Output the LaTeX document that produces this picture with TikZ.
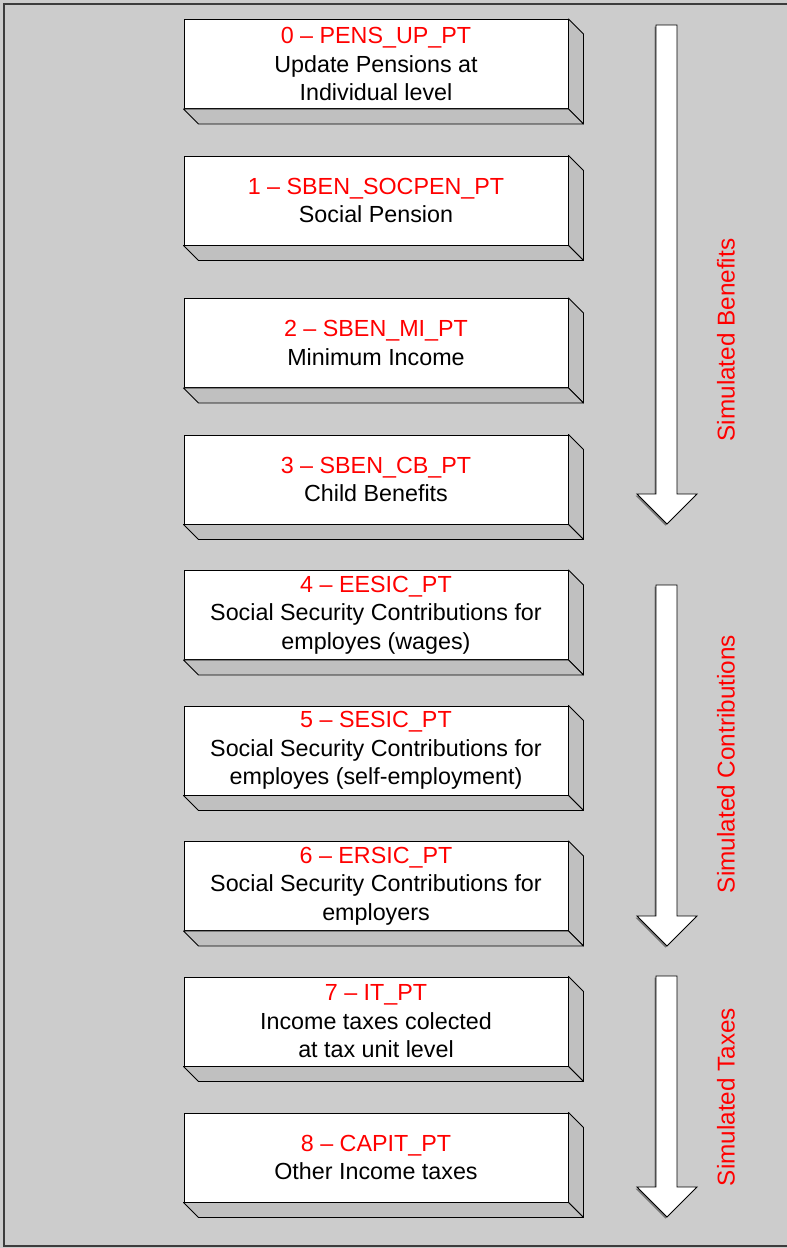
\documentclass[tikz,border=0pt]{standalone}
\usepackage{fontspec}
\setmainfont{Liberation Sans}
\definecolor{bg}{RGB}{204,204,204}
\definecolor{bevelc}{RGB}{192,192,192}
\definecolor{framec}{RGB}{60,60,60}
\definecolor{shadowc}{RGB}{120,120,120}
\newcommand\mybevel[1]{%
  \path[bevel] (#1.north east) -- ++(15,15) -- ([shift={(15,15)}]#1.south east) -- (#1.south east) -- cycle;
  \path[bevel] (#1.south west) -- (#1.south east) -- ([shift={(15,15)}]#1.south east) -- ([shift={(15,15)}]#1.south west) -- cycle;
}
\newcommand\myarrow[3]{% top, head base, tip
  \fill[shadowc] (654.5,#1+1.5) -- (675.5,#1+1.5) -- (675.5,#2+1.5) -- (695.5,#2+1.5) -- (665.5,#3+1.5) -- (635.5,#2+1.5) -- (654.5,#2+1.5) -- cycle;
  \path[bigarrow] (656,#1) -- (677,#1) -- (677,#2) -- (697,#2) -- (667,#3) -- (637,#2) -- (656,#2) -- cycle;
}
\begin{document}
\begin{tikzpicture}[x=1pt,y=-1pt,
  front/.style={draw=black,fill=white,line width=0.9pt,minimum width=384pt,minimum height=89pt,inner sep=0pt,align=center,font=\fontsize{23.3}{28.5}\selectfont},
  bevel/.style={draw=black,fill=bevelc,line width=0.9pt,line join=round},
  bigarrow/.style={draw=black,fill=white,line width=0.9pt,line join=miter},
  lab/.style={text=red,rotate=90,font=\fontsize{24.3}{28}\selectfont,inner sep=0pt}]
\useasboundingbox (0,0) rectangle (787,1248);
\fill[bg] (0,0) rectangle (787,1248);
\draw[framec,line width=1.6pt] (790,4) -- (4,4) -- (4,1246) -- (790,1246);

\node[front] (b0) at (376,64) {{\color{red}0 – PENS\_UP\_PT}\\Update Pensions at\\Individual level};
\mybevel{b0}
\node[front] (b1) at (376,200.5) {{\color{red}1 – SBEN\_SOCPEN\_PT}\\Social Pension};
\mybevel{b1}
\node[front] (b2) at (376,343) {{\color{red}2 – SBEN\_MI\_PT}\\Minimum Income};
\mybevel{b2}
\node[front] (b3) at (376,479.5) {{\color{red}3 – SBEN\_CB\_PT}\\Child Benefits};
\mybevel{b3}
\node[front] (b4) at (376,615) {{\color{red}4 – EESIC\_PT}\\Social Security Contributions for\\employes (wages)};
\mybevel{b4}
\node[front] (b5) at (376,750.5) {{\color{red}5 – SESIC\_PT}\\Social Security Contributions for\\employes (self-employment)};
\mybevel{b5}
\node[front] (b6) at (376,886) {{\color{red}6 – ERSIC\_PT}\\Social Security Contributions for\\employers};
\mybevel{b6}
\node[front] (b7) at (376,1021.5) {{\color{red}7 – IT\_PT}\\Income taxes colected\\at tax unit level};
\mybevel{b7}
\node[front] (b8) at (376,1157.5) {{\color{red}8 – CAPIT\_PT}\\Other Income taxes};
\mybevel{b8}

\myarrow{25}{494}{524}
\myarrow{585}{916}{946}
\myarrow{976}{1187}{1217}

\node[lab] (l1) at (726,340) {Simulated Benefits};
\node[lab] (l2) at (726,764) {Simulated Contributions};
\node[lab] (l3) at (726,1097) {Simulated Taxes};
\end{tikzpicture}
\end{document}
